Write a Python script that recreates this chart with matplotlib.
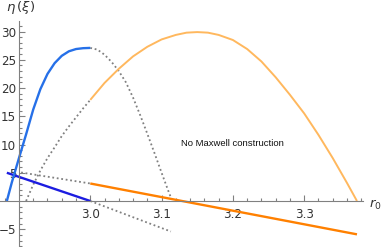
import matplotlib
matplotlib.use("Agg")
import matplotlib.pyplot as plt
import numpy as np

plt.rcParams['mathtext.fontset'] = 'dejavusans'

# stable branch (blue), rising from the start
r_blue = [2.883, 2.89, 2.90, 2.91, 2.92, 2.93, 2.94, 2.95, 2.96, 2.97, 2.98, 2.99, 3.00]
eta_blue = [0.0, 3.3, 7.6, 11.8, 16.2, 19.8, 22.5, 24.4, 25.7, 26.5, 26.9, 27.05, 27.1]

# continuation of blue branch (dotted)
r_dot1 = [3.00, 3.01, 3.02, 3.03, 3.04, 3.05, 3.06, 3.07, 3.08, 3.09, 3.10, 3.11, 3.1128]
eta_dot1 = [27.1, 26.8, 25.9, 24.6, 23.0, 21.0, 18.3, 15.2, 11.9, 8.5, 5.0, 1.6, 0.7]

# lower branch before the light orange one (dotted)
r_dot2 = [2.910, 2.92, 2.93, 2.94, 2.95, 2.96, 2.97, 2.98, 2.99, 3.00]
eta_dot2 = [0.0, 2.9, 5.4, 7.6, 9.5, 11.5, 13.2, 14.8, 16.4, 17.9]

# light orange branch
r_lorange = [3.00, 3.02, 3.04, 3.06, 3.08, 3.10, 3.12, 3.135, 3.15, 3.165, 3.18, 3.20,
             3.22, 3.24, 3.26, 3.28, 3.30, 3.32, 3.34, 3.36, 3.374]
eta_lorange = [17.9, 20.9, 23.4, 25.6, 27.3, 28.6, 29.4, 29.8, 29.9, 29.8, 29.4, 28.5,
               26.9, 24.7, 21.9, 18.8, 15.5, 11.7, 7.6, 3.2, 0.0]

# straight pieces
r_dblue = [2.883, 3.00]
eta_dblue = [5.0, 0.0]
r_dot3 = [2.903, 3.00]
eta_dot3 = [5.05, 3.1]
r_dorange = [3.00, 3.374]
eta_dorange = [3.1, -5.9]
r_dot4 = [3.00, 3.113]
eta_dot4 = [0.0, -5.4]

fig = plt.figure(figsize=(3.83, 2.47), dpi=100)
ax = fig.add_axes([0, 0, 1, 1])

gray = '#808080'
dots = (0, (1, 1.5))
ax.plot(r_dot1, eta_dot1, color=gray, lw=1.3, ls=dots)
ax.plot(r_dot2, eta_dot2, color=gray, lw=1.3, ls=dots)
ax.plot(r_dot3, eta_dot3, color=gray, lw=1.3, ls=dots)
ax.plot(r_dot4, eta_dot4, color=gray, lw=1.3, ls=dots)
ax.plot(r_dblue, eta_dblue, color='#1c1ce0', lw=1.7, solid_capstyle='butt')
ax.plot(r_blue, eta_blue, color='#2670e8', lw=1.7, solid_capstyle='butt')
ax.plot(r_lorange, eta_lorange, color='#ffb85e', lw=1.4, solid_capstyle='butt')
ax.plot(r_dorange, eta_dorange, color='#ff8000', lw=1.7, solid_capstyle='butt')

ax.set_xlim(2.8734, 3.4105)
ax.set_ylim(-8.14, 35.58)
ax.patch.set_alpha(0)

for s in ['top', 'right']:
    ax.spines[s].set_visible(False)
ax.spines['left'].set_position(('data', 2.90))
ax.spines['bottom'].set_position(('data', 0))
ax.spines['left'].set_bounds(-8.14, 31.9)
ax.spines['bottom'].set_bounds(2.8734, 3.3826)
for s in ['left', 'bottom']:
    ax.spines[s].set_color(gray)
    ax.spines[s].set_linewidth(0.8)

ax.set_xticks([3.0, 3.1, 3.2, 3.3])
ax.set_xticklabels(['3.0', '3.1', '3.2', '3.3'])
ax.set_xticks([x for x in np.arange(2.88, 3.39, 0.02) if abs(x * 10 - round(x * 10)) > 1e-6], minor=True)
ax.set_yticks([-5, 5, 10, 15, 20, 25, 30])
ax.set_yticks([y for y in range(-8, 32) if y % 5 != 0], minor=True)
ax.tick_params(which='both', direction='in', color=gray, width=0.8,
               labelsize=8.6, labelcolor='#333333')
ax.tick_params(which='major', length=4)
ax.tick_params(which='minor', length=2.2)
ax.tick_params(axis='y', which='major', pad=2)
ax.tick_params(axis='x', which='major', pad=5)

ax.text(3.2, 10.1, 'No Maxwell construction', fontsize=6.8, family='Liberation Sans',
        ha='center', va='center', color='#111111')

fig.text(6 / 383, 1 - 8 / 247, r'$\eta\,(\xi)$', fontsize=9.5, va='center', ha='left', color='#333333')
fig.text(369 / 383, 1 - 205 / 247, r'$r_0$', fontsize=9.5, va='center', ha='left', color='#333333')

fig.savefig('out.png', dpi=100)
